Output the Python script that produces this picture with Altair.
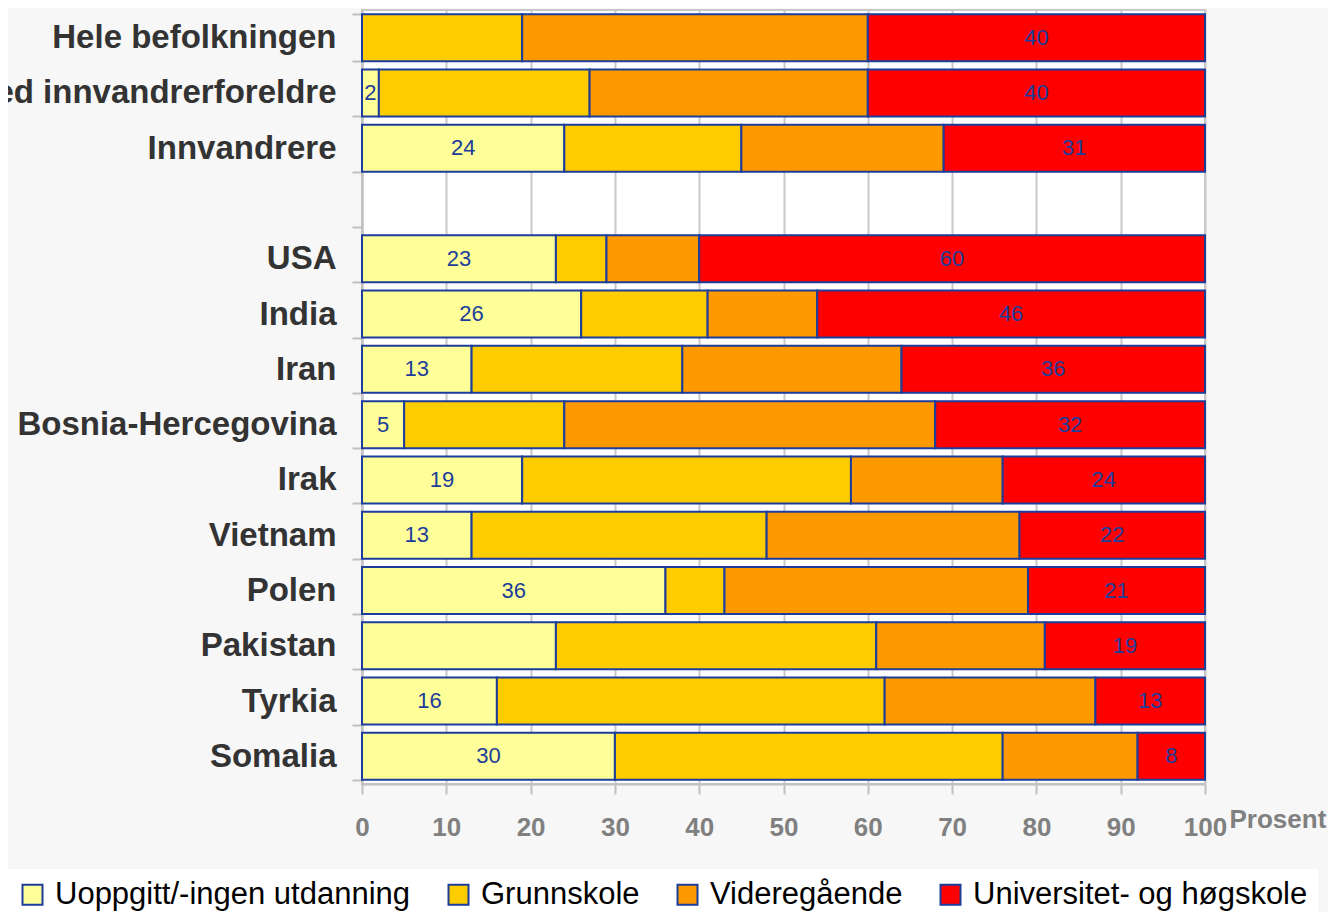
import altair as alt
import pandas as pd

categories = ["Hele befolkningen", "Norskfødte med innvandrerforeldre", "Innvandrere",
              "USA", "India", "Iran", "Bosnia-Hercegovina", "Irak", "Vietnam",
              "Polen", "Pakistan", "Tyrkia", "Somalia"]
axis_domain = ["Hele befolkningen", "Norskfødte med innvandrerforeldre", "Innvandrere", " ",
               "USA", "India", "Iran", "Bosnia-Hercegovina", "Irak", "Vietnam",
               "Polen", "Pakistan", "Tyrkia", "Somalia"]
levels = ["Uoppgitt/-ingen utdanning", "Grunnskole", "Videregående", "Universitet- og høgskole"]
colors = ["#FFFF99", "#FFCC00", "#FF9900", "#FF0000"]

uoppgitt = [0, 2, 24, 23, 26, 13, 5, 19, 13, 36, 23, 16, 30]
grunnskole = [19, 25, 21, 6, 15, 25, 19, 39, 35, 7, 38, 46, 46]
videregaende = [41, 33, 24, 11, 13, 26, 44, 18, 30, 36, 20, 25, 16]
universitet = [40, 40, 31, 60, 46, 36, 32, 24, 22, 21, 19, 13, 8]
# which segments carry a printed value
uoppgitt_labelled = [False, True, True, True, True, True, True, True, True, True, False, True, True]
universitet_labelled = [True] * 13

series = [uoppgitt, grunnskole, videregaende, universitet]
labelled = [uoppgitt_labelled, [False] * 13, [False] * 13, universitet_labelled]

rows = []
for i, c in enumerate(categories):
    for k, lvl in enumerate(levels):
        v = series[k][i]
        rows.append({"cat": c, "level": lvl, "order": k, "value": v,
                     "lab": str(v) if labelled[k][i] else ""})
df = pd.DataFrame(rows)

BLUE = "#1c3d9a"
FONT = "Liberation Sans"

yscale = alt.Scale(domain=axis_domain, paddingInner=0.15, paddingOuter=0.075)
xscale = alt.Scale(domain=[0, 100], nice=False)

base = alt.Chart(df)

bars = base.transform_filter("datum.value > 0").mark_bar(stroke=BLUE, strokeWidth=2).encode(
    y=alt.Y("cat:N", scale=yscale, sort=axis_domain, title=None,
            axis=alt.Axis(labelFont=FONT, labelFontSize=33, labelFontWeight="bold",
                          labelColor="#333333", labelPadding=16, labelLimit=0,
                          tickSize=10, tickColor="#c0c0c0", tickWidth=2, tickBand="extent",
                          domainColor="#c0c0c0", domainWidth=2, grid=False)),
    x=alt.X("value:Q", stack="zero", scale=xscale,
            axis=alt.Axis(values=list(range(0, 101, 10)), grid=True, gridColor="#c8c8c8",
                          gridWidth=2, domainColor="#c0c0c0", domainWidth=2,
                          tickColor="#c0c0c0", tickWidth=2, tickSize=10,
                          labelFont=FONT, labelFontSize=26, labelFontWeight="bold",
                          labelColor="#808080", labelPadding=41, labelBaseline="alphabetic",
                          labelFlush=False, labelOverlap=False,
                          title="Prosent", titleFont=FONT, titleFontSize=26,
                          titleFontWeight="bold", titleColor="#808080",
                          titleX=867, titleY=43, titleAlign="left",
                          titleBaseline="alphabetic", titleAnchor="start")),
    color=alt.Color("level:N", scale=alt.Scale(domain=levels, range=colors),
                    legend=alt.Legend(title=None, orient="none", legendX=-355, legendY=859,
                                      direction="horizontal", symbolType="square",
                                      symbolSize=400, symbolStrokeColor=BLUE,
                                      symbolStrokeWidth=2, labelFont=FONT,
                                      labelFontSize=31, labelColor="black",
                                      fillColor="white", padding=10, columnPadding=32,
                                      labelOffset=7, labelLimit=0)),
    order=alt.Order("order:Q", sort="ascending"),
)

texts = base.transform_stack(
    stack="value", groupby=["cat"], as_=["v0", "v1"],
    sort=[alt.SortField("order", "ascending")]
).transform_calculate(
    mid="(datum.v0 + datum.v1) / 2"
).transform_filter("datum.lab != ''").mark_text(
    font=FONT, fontSize=22, color=BLUE, baseline="middle", align="center"
).encode(
    y=alt.Y("cat:N", scale=yscale, sort=axis_domain),
    x=alt.X("mid:Q", scale=xscale),
    text="lab:N",
)

chart = alt.layer(bars, texts).properties(
    width=843, height=774,
    autosize=alt.AutoSizeParams(type="none"),
    padding={"left": 354, "top": 2, "right": 123, "bottom": 128},
    background="#f7f7f7",
).configure_view(fill="white", stroke="#c8c8c8", strokeWidth=2)

chart.save("out.html", embed_options={"renderer": "svg", "actions": False})
